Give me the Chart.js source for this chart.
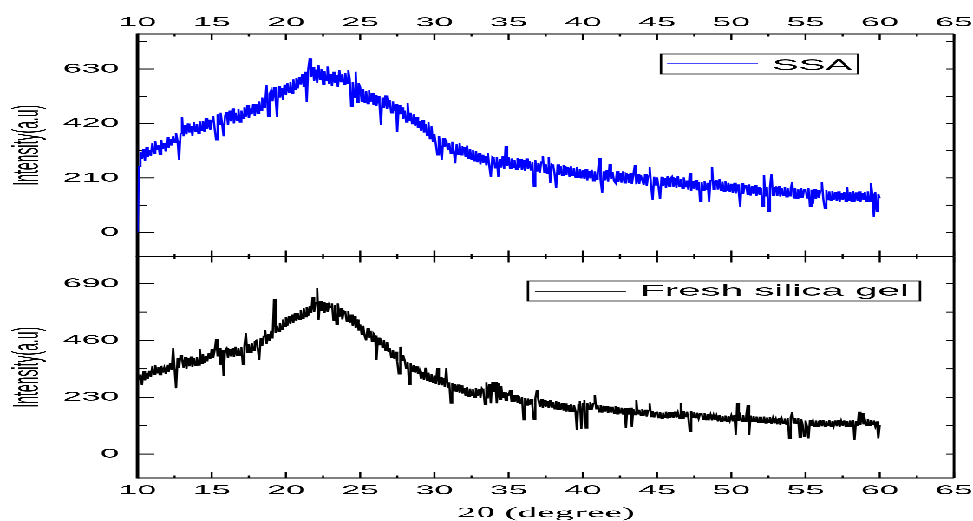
<!DOCTYPE html>
<html>
<head>
<meta charset="utf-8">
<script src="https://cdn.jsdelivr.net/npm/chart.js@4.4.1/dist/chart.umd.min.js"></script>
<style>
html,body{margin:0;padding:0;background:#fff;overflow:hidden;width:973px;height:521px}
#stretch{position:absolute;left:0;top:0;width:374px;height:521px;transform-origin:0 0}
#topPanel{position:absolute;left:0;top:0;width:374px;height:260px}
#botPanel{position:absolute;left:0;top:250px;width:374px;height:271px}
</style>
</head>
<body>
<div id="stretch">
  <div id="topPanel"><canvas id="c1"></canvas></div>
  <div id="botPanel"><canvas id="c2"></canvas></div>
</div>
<script>
// ---------- data ----------
const thetaStart = 10;
const thetaStep = 0.1;

const ssaIntensity = [
0,255,310,282,322,276,330,290,318,296,
345,305,352,318,338,300,356,322,345,312,
368,325,360,335,372,346,382,352,279,380,
446,370,415,378,420,385,410,372,425,390,
418,380,428,392,430,388,442,400,435,395,
430,448,400,356,455,415,462,420,370,450,
465,415,470,428,478,420,462,432,475,425,
470,438,482,445,490,440,478,455,495,450,
495,458,505,470,520,480,498,568,446,535,
548,505,560,515,446,565,520,558,512,570,
530,575,540,580,535,590,550,595,555,600,
570,612,560,620,504,630,671,600,638,585,
628,575,645,590,630,570,622,585,640,572,
612,565,620,575,608,560,625,580,610,570,
615,575,625,590,485,580,520,620,500,575,
560,505,552,500,545,495,548,502,538,490,
530,488,525,495,414,520,480,528,476,510,
500,460,505,468,495,388,490,455,482,438,
470,425,500,430,462,418,455,410,445,402,
428,390,432,385,418,372,425,360,410,350,
378,340,298,372,335,279,365,330,358,318,
345,305,350,312,266,340,300,345,298,330,
328,290,335,285,322,280,318,275,315,270,
305,262,300,268,295,258,305,255,215,290,
285,248,290,215,282,250,295,245,334,255,
290,245,285,250,278,242,288,248,282,240,
280,238,285,245,275,240,270,178,278,236,
268,230,272,294,232,265,228,290,190,262,
258,225,171,262,220,255,218,260,222,252,
250,215,255,220,248,212,252,210,245,208,
240,205,245,200,238,208,242,198,235,205,
230,286,198,153,235,200,240,196,263,205,
232,198,190,236,195,230,192,235,190,228,
225,190,230,186,222,259,185,226,188,220,
220,182,225,180,218,253,178,125,215,182,
212,175,128,215,178,210,172,216,176,208,
215,176,210,172,218,178,205,170,212,175,
200,165,228,160,198,168,202,162,195,118,
195,160,198,165,192,118,200,253,165,198,
200,165,205,160,196,158,198,162,192,155,
188,152,192,150,185,155,99,190,148,182,
180,145,185,142,178,148,182,140,176,145,
172,99,221,140,175,80,170,226,142,172,
175,140,178,138,172,142,176,136,170,140,
168,195,132,170,130,166,135,172,132,165,
168,132,170,99,165,110,168,128,162,132,
160,195,126,92,162,125,158,122,160,124,
155,120,158,118,152,124,156,118,175,122,
155,120,160,118,154,122,158,116,152,124,
155,120,158,118,191,150,60,155,80,148,
131
];

const freshIntensity = [
330,300,322,280,335,298,328,305,338,312,
355,322,360,328,352,320,358,330,350,325,
362,332,368,340,428,345,266,390,348,401,
385,350,392,345,388,355,395,352,390,358,
392,360,425,365,405,370,398,375,410,385,
425,390,420,465,395,428,361,422,316,420,
428,390,425,395,430,392,435,398,428,400,
432,361,438,489,410,445,412,450,418,455,
460,425,381,470,438,478,502,445,485,458,
500,468,627,490,520,495,530,505,545,515,
555,520,560,528,565,532,570,538,572,545,
582,548,590,555,595,560,600,570,637,575,
615,671,543,620,580,615,570,612,575,605,
592,610,540,605,523,610,555,590,545,580,
575,535,580,530,565,520,560,510,545,500,
525,485,520,480,460,510,470,500,455,488,
480,381,472,440,468,430,462,420,455,415,
428,390,422,385,415,375,324,435,378,400,
380,345,372,280,368,335,362,330,355,325,
338,305,332,300,350,298,330,295,325,290,
318,285,348,280,312,278,308,272,348,270,
290,206,288,255,285,250,282,248,278,245,
268,235,272,232,265,238,262,230,268,236,
262,228,265,255,200,290,225,285,205,292,
250,293,205,288,222,275,228,252,218,245,
240,259,212,238,210,240,208,235,205,232,
138,228,198,225,200,222,196,140,225,259,
220,190,222,188,218,192,215,186,220,190,
212,182,215,180,210,178,208,176,205,172,
200,170,202,172,198,175,97,200,215,100,
205,220,105,208,180,210,178,205,239,182,
198,170,200,168,196,172,195,165,192,168,
192,165,195,162,190,166,188,160,186,105,
185,160,188,110,182,158,219,162,180,156,
182,155,180,152,178,205,150,175,148,170,
172,146,170,145,168,148,172,144,170,146,
170,146,172,148,168,145,208,144,175,150,
172,150,90,175,148,170,146,168,144,165,
164,140,166,138,162,142,160,136,158,138,
156,132,158,130,155,134,156,130,154,135,
156,132,158,77,206,134,155,130,157,132,
155,200,78,156,130,154,132,152,128,150,
150,126,152,125,148,128,150,122,146,124,
142,120,145,118,142,122,144,120,146,63,
148,170,125,146,122,145,68,142,120,70,
136,112,63,138,114,135,110,136,112,134,
136,112,138,110,135,114,137,110,134,113,
136,112,138,110,134,115,136,110,135,112,
136,112,138,57,134,115,172,118,165,120,
140,116,142,114,138,118,136,112,132,63,
117
];

const twoTheta = ssaIntensity.map((_, i) => +(thetaStart + i * thetaStep).toFixed(1));

const seriesNames = ['SSA', 'Fresh silica gel'];
const seriesColors = ['#0000ff', '#000000'];
const legendLineColors = ['#4a4aff', '#222222'];

const xTickValues = [10, 15, 20, 25, 30, 35, 40, 45, 50, 55, 60, 65];
const ssaYTicks = [0, 210, 420, 630];
const freshYTicks = [0, 230, 460, 690];

const xRange = { min: 10, max: 65, minor: 2.5 };
const ssaYRange = { min: -93, max: 765, minor: 105, ticks: ssaYTicks };
const freshYRange = { min: -97, max: 800, minor: 115, ticks: freshYTicks };

const yTitle = 'Intensity(a.u)';
const xTitle = '2\u03b8 (degree)';

// ---------- geometry (the whole figure is horizontally stretched) ----------
const S = 973 / 374;
const u = px => px / S;
document.getElementById('stretch').style.transform = 'scaleX(' + S + ')';

const SANS = "'Liberation Sans', Arial, sans-serif";
const SERIF = "'Liberation Serif', 'Times New Roman', serif";

// ---------- plugins ----------
const frameTicks = {
  id: 'frameTicks',
  beforeDatasetsDraw(chart, args, o) {
    const { ctx, chartArea: a, scales: { x, y } } = chart;
    const seg = (x1, y1, x2, y2) => { ctx.beginPath(); ctx.moveTo(x1, y1); ctx.lineTo(x2, y2); ctx.stroke(); };
    ctx.save();
    ctx.strokeStyle = '#000';
    ctx.lineWidth = 0.8;
    x.ticks.forEach(t => {
      const px = x.getPixelForValue(t.value);
      seg(px, a.top, px, a.top + 6);
      seg(px, a.bottom, px, a.bottom - 6);
      const mv = t.value + o.xMinor;
      if (mv < x.max) {
        const mp = x.getPixelForValue(mv);
        seg(mp, a.top, mp, a.top + 2.5);
        seg(mp, a.bottom, mp, a.bottom - 2.5);
      }
    });
    ctx.lineWidth = 1;
    const minors = [];
    y.ticks.forEach((t, i) => {
      const py = y.getPixelForValue(t.value);
      seg(a.left, py, a.left + 6.5, py);
      seg(a.right, py, a.right - 3, py);
      if (i === 0 && t.value - o.yMinor > y.min) minors.push(t.value - o.yMinor);
      if (t.value + o.yMinor < y.max) minors.push(t.value + o.yMinor);
    });
    minors.forEach(v => {
      const py = y.getPixelForValue(v);
      seg(a.left, py, a.left + 3.5, py);
      seg(a.right, py, a.right - 3, py);
    });
    ctx.lineWidth = 1;
    seg(a.left, a.top, a.right, a.top);
    seg(a.left, a.bottom, a.right, a.bottom);
    seg(a.right, a.top, a.right, a.bottom);
    ctx.lineWidth = 1.3;
    seg(a.left, a.top - 0.5, a.left, a.bottom + 0.5);
    ctx.restore();
  }
};

const legendBox = {
  id: 'legendBox',
  afterDraw(chart, args, o) {
    const ctx = chart.ctx;
    const ds = chart.data.datasets[0];
    const k = seriesNames.indexOf(ds.label);
    ctx.save();
    ctx.fillStyle = '#fff';
    ctx.fillRect(o.x, o.y, o.w, o.h);
    ctx.strokeStyle = '#000';
    ctx.lineWidth = 0.9;
    ctx.strokeRect(o.x, o.y, o.w, o.h);
    ctx.strokeStyle = legendLineColors[k];
    ctx.lineWidth = 1.2;
    ctx.beginPath(); ctx.moveTo(o.x1, o.ly); ctx.lineTo(o.x2, o.ly); ctx.stroke();
    ctx.fillStyle = '#000';
    ctx.font = o.fontSize + 'px ' + SANS;
    ctx.textBaseline = 'alphabetic';
    ctx.textAlign = 'left';
    ctx.fillText(ds.label, o.tx, o.ty);
    ctx.restore();
  }
};

function makeChart(id, values, k, yr, xPos, pad, xAxisHeight, legend) {
  const tickFont = { family: SANS, size: 13 };
  return new Chart(document.getElementById(id), {
    type: 'line',
    data: {
      datasets: [{
        label: seriesNames[k],
        data: twoTheta.map((t, i) => ({ x: t, y: values[i] })),
        borderColor: seriesColors[k],
        borderWidth: 0.85,
        pointRadius: 0,
        tension: 0,
        fill: false
      }]
    },
    options: {
      responsive: true,
      maintainAspectRatio: false,
      animation: false,
      devicePixelRatio: 3,
      layout: { padding: { left: 0, right: u(973 - 954), top: pad.top, bottom: pad.bottom } },
      plugins: {
        legend: { display: false },
        tooltip: { enabled: false },
        frameTicks: { xMinor: xRange.minor, yMinor: yr.minor },
        legendBox: legend
      },
      scales: {
        x: {
          type: 'linear',
          position: xPos,
          min: xRange.min,
          max: xRange.max,
          afterBuildTicks: s => { s.ticks = xTickValues.map(v => ({ value: v })); },
          ticks: { autoSkip: false, maxRotation: 0, padding: xPos === 'top' ? 3.5 : 5, color: '#000', font: tickFont },
          grid: { display: false, drawTicks: false },
          border: { display: false },
          title: xPos === 'bottom'
            ? { display: true, text: xTitle, color: '#000', font: { family: SERIF, size: 15, lineHeight: 1 }, padding: { top: 0, bottom: 0 } }
            : { display: false },
          afterFit: s => { s.height = xAxisHeight; s.paddingLeft = 0; s.paddingRight = 0; }
        },
        y: {
          type: 'linear',
          min: yr.min,
          max: yr.max,
          afterBuildTicks: s => { s.ticks = yr.ticks.map(v => ({ value: v })); },
          ticks: { padding: 7, color: '#000', font: tickFont },
          grid: { display: false, drawTicks: false },
          border: { display: false },
          title: { display: true, text: yTitle, color: '#000', font: { family: SANS, size: 14, lineHeight: 1 }, padding: { top: 3.8, bottom: 0 } },
          afterFit: s => { s.width = u(137.5); s.paddingTop = 0; s.paddingBottom = 0; }
        }
      }
    },
    plugins: [frameTicks, legendBox]
  });
}

makeChart('c1', ssaIntensity, 0, ssaYRange, 'top', { top: 0, bottom: 3.5 }, 34, {
  x: u(661), y: 54, w: u(858) - u(661), h: 20,
  x1: u(667), x2: u(758), ly: 63.5, tx: u(772), ty: 70, fontSize: 15.4
});

makeChart('c2', freshIntensity, 1, freshYRange, 'bottom', { top: 6.5, bottom: 0 }, 43, {
  x: u(528), y: 31, w: u(920) - u(528), h: 20,
  x1: u(535), x2: u(626), ly: 41.5, tx: u(640), ty: 45.7, fontSize: 15.5
});
</script>
</body>
</html>
